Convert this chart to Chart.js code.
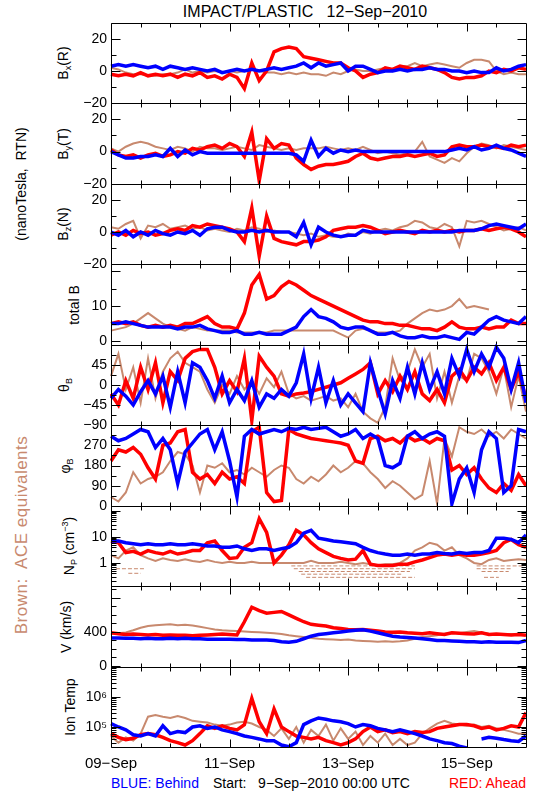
<!DOCTYPE html>
<html>
<head>
<meta charset="utf-8">
<script src="https://cdn.jsdelivr.net/npm/chart.js@4/dist/chart.umd.min.js"></script>
<style>
  body { margin: 0; background: #fff; }
  #wrap { position: relative; width: 550px; height: 800px; font-family: 'Liberation Sans', Arial, sans-serif; color: #000; }
  #wrap canvas { position: absolute; left: 0; }
  .rot { position: absolute; white-space: nowrap; font-size: 14px; line-height: 1; transform: translate(-50%, -50%) rotate(-90deg); }
  .rot sub { font-size: 9px; vertical-align: -3px; }
  .rot sup { font-size: 9px; vertical-align: 6px; }
  .txt { position: absolute; white-space: nowrap; font-size: 14px; line-height: 1; }
</style>
</head>
<body>
<div id="wrap">
  <div class="txt" style="left:305px;top:4px;font-size:16px;transform:translateX(-50%)">IMPACT/PLASTIC&nbsp;&nbsp;&nbsp;12−Sep−2010</div>
  <div class="rot" style="left:21px;top:184px">(nanoTesla,&nbsp; RTN)</div>
  <div class="rot" style="left:21px;top:535px;color:#c8896e;font-size:17px;letter-spacing:0.5px">Brown:&nbsp; ACE equivalents</div>
  <div class="rot" style="left:64px;top:63px">B<sub>x</sub>(R)</div>
  <div class="rot" style="left:64px;top:144px">B<sub>y</sub>(T)</div>
  <div class="rot" style="left:64px;top:224px">B<sub>z</sub>(N)</div>
  <div class="rot" style="left:74px;top:305px">total B</div>
  <div class="rot" style="left:65px;top:385px">θ<sub>B</sub></div>
  <div class="rot" style="left:66px;top:466px">φ<sub>B</sub></div>
  <div class="rot" style="left:70px;top:546px">N<sub>P</sub> (cm<sup>−3</sup>)</div>
  <div class="rot" style="left:66px;top:627px">V (km/s)</div>
  <div class="rot" style="left:70px;top:707px">Ion Temp</div>
  <div class="txt" style="left:111px;top:776px;color:#0000ff">BLUE: Behind</div>
  <div class="txt" style="left:213px;top:776px">Start:&nbsp;&nbsp; 9−Sep−2010 00:00 UTC</div>
  <div class="txt" style="right:24px;top:776px;color:#ff0000">RED: Ahead</div>
</div>
<script>
// hours since 09-Sep-2010 00:00
const HOURS = [0,3,6,9,12,15,18,21,24,27,30,33,36,39,42,45,48,51,54,57,60,63,66,69,72,75,78,81,84,87,90,93,96,99,102,105,108,111,114,117,120,123,126,129,132,135,138,141,144,147,150,153,156,159,162,165,168];

const X_LABEL_HOURS = [0, 48, 96, 144];
const X_LABELS = ['09−Sep', '11−Sep', '13−Sep', '15−Sep'];
const X_MAJOR = [0, 48, 96, 144];
const X_MINOR = [12, 24, 36, 60, 72, 84, 108, 120, 132, 156];

// Bx (R)
const bxRed = [-2,-3,-2,-3,-1,-3,-2,-3,-2,-4, -2,-3,-1,-4,-3,-5,-2,-4,-11,5, -6,0,12,14,15,14,9,8,7,6, 5,5,2,0,-4,-2,-1,2,1,3, 2,1,3,2,1,-1,-4,-5,-4,-4, -3,0,-1,1,0,2,1];
const bxBlue = [3,4,3,4,3,2,3,1,3,2, 1,2,1,0,1,-1,0,1,0,1, 0,1,2,1,2,3,5,2,5,3, 4,5,0,3,3,1,-1,0,0,1, 0,1,1,2,1,1,0,0,-1,0, -1,-1,2,0,1,3,4];
const bxBrown = [2,1,-1,-2,-2,-3,-3,-2,-2,-1, 1,-1,0,-1,0,-1,0,-1,0,1, 0,-1,-1,-2,-1,-2,-1,-2,-2,-3, -1,-2,0,1,0,0,1,2,0,3, 3,5,3,4,5,4,3,2,5,7, 7,6,0,-2,-1,-2,-2];

// By (T)
const byRed = [1,-2,-3,-2,-4,-2,-1,-3,-2,0, -1,2,1,3,4,2,5,3,-3,12, -18,8,2,5,4,-4,-8,-11,-9,-8, -8,-7,-6,-3,-1,-4,-5,-4,-3,-3, -2,-3,-2,-1,-3,-2,3,4,3,3, 4,3,3,2,4,3,4];
const byBlue = [0,-2,-4,-4,-3,-3,-2,-3,2,-3, 1,-2,0,-1,-1,-1,-1,-1,-1,-1, -1,-1,-1,-1,-1,-2,-6,7,-3,2, -1,1,0,1,0,0,0,0,0,0, 0,0,0,0,0,0,1,2,1,3, 1,2,4,2,1,-1,-3];
const byBrown = [2,0,3,5,6,5,3,2,1,3, 2,0,3,2,2,1,2,3,2,1, 4,3,2,1,2,1,2,2,2,3, 2,1,2,1,3,1,-1,0,-1,-2, -1,0,6,-3,-5,-7,-4,-6,-1,3, 5,4,2,4,3,2,1];

// Bz (N)
const bzRed = [-2,0,-2,1,-1,0,-2,-1,1,2, 1,4,3,5,4,3,2,0,-6,15, -15,10,-4,-6,-7,-8,-6,-6,-5,-3, 1,2,3,3,4,3,1,-1,0,1, 0,-1,1,0,1,0,1,0,1,1, 2,1,2,3,2,0,-3];
const bzBlue = [0,-2,1,-3,0,-2,1,-1,-2,0, -1,1,-2,2,3,3,1,0,0,1, 0,1,0,0,0,-3,6,-8,3,0, -2,-3,-2,-2,1,0,0,0,0,0, 0,0,0,0,0,0,0,1,1,1, 2,4,5,4,3,2,5];
const bzBrown = [3,2,5,7,-4,4,3,5,2,3, 4,2,3,1,2,1,0,2,1,3, 2,0,1,0,0,-1,-2,-1,-3,-2, -3,-3,-1,-2,0,-1,1,2,1,3, 4,7,6,3,2,5,3,-9,7,6, 7,5,3,1,2,3,1];

// total B
const btRed = [5,5.5,5,5.5,4.5,4,4.5,4,4.5,4, 5,5,6,7,5,4,4,3.5,8,16, 19,12,13,15.5,17,16,14.5,13,12,11, 10,9,8,7,6,5.5,5.5,5,5,4.5, 4.5,4,3.5,3.5,3,4,5.5,4,3.5,3.5, 4,3.5,4,4,6,5,5];
const btBlue = [5,5,5.5,5,4.5,4,4,4,4,3.5, 4,4,4.5,3.5,3,2.5,2.5,3,2,2, 2.5,2,2,2,3,4,7,9,7,6.5, 5.5,4,3.5,4,4,3,2,2,2.5,1.5, 1,1,1.5,1,1,1.5,1,0.5,2.5,2, 4,6,7,6,5.5,5,7];
const btBrown = [3,3.5,4,5,6.5,8,6.5,5,4,3.5, 3,4,3.5,3,3,3,3,2.5,2.5,2.5, 2.5,2.5,3,3,3,3,3,3,3,3, 3,2,1,3,3.5,3,2.5,2.5,2.5,3, 5,6.5,8,9,8.5,9,10,12,9.5,10, 9.5,9,null,null,null,null,null];

// theta B (deg)
const thRed = [-20,-45,10,-30,40,-10,50,-40,30,10, 60,75,80,80,40,-20,10,-15,60,-80, 65,40,20,-20,-25,-20,-18,-15,-10,-5, 0,5,15,25,35,50,-20,10,-15,20, -10,30,-20,-35,-10,-40,20,35,10,40, 25,50,10,40,-10,30,-30];
const thBlue = [-30,-10,-25,-45,-15,10,-20,20,-50,30, -40,50,40,10,-30,20,-40,-10,-35,10, -50,-20,-30,-10,-25,5,70,-30,40,-40, 10,-45,-20,-40,-60,50,-10,-65,10,-30, 40,-20,50,-10,30,-20,60,20,80,30, 70,40,85,60,-10,50,-40];
const thBrown = [20,70,-10,40,-40,60,-30,30,60,75, 50,40,30,-10,-40,0,-20,20,-10,10, -20,15,-5,30,-20,-30,-25,-35,-30,-25, -35,-30,-50,-20,-60,-75,-85,-50,60,10, 30,80,40,70,-30,30,-40,20,10,70, 60,30,-20,40,-50,20,-60];

// phi B (deg)
const phRed = [200,250,240,260,230,170,120,270,280,330, 340,150,120,140,100,150,120,130,100,330, 350,60,20,25,340,320,310,300,295,290, 285,280,270,200,190,300,310,290,300,280, 310,290,300,280,300,290,160,180,140,170, 120,80,60,100,70,140,90];
const phBlue = [310,290,300,320,340,330,260,300,250,100, 240,280,320,340,250,330,200,40,310,340, 320,330,340,330,345,340,350,340,345,350, 330,310,320,340,300,320,300,180,170,190, 310,330,300,320,330,310,10,120,170,60, 250,330,300,60,90,340,330];
const phBrown = [40,20,60,150,100,120,130,150,200,240, 230,180,60,180,170,190,150,160,140,170, 150,130,160,180,170,120,100,130,110,140, 180,150,170,200,190,150,120,80,110,90, 60,30,50,200,10,300,220,350,330,320, 340,310,330,300,340,320,300];

// Np (cm^-3)
const npRed = [7,6,2.5,2.8,2.2,3,2.5,2.2,2.8,2.2, 2.5,3,3,6,7,3,1.5,1.6,4,6, 50,15,1,2,5,18,12,6,3.5,2.5, 1.8,1.5,1.3,1.4,3,0.9,0.8,0.8,0.8,0.9, 0.9,1.1,1.3,1.6,2,2.2,2,2.2,2,2, 2.2,2.5,3,6,8,5,4];
const npBlue = [7,7,6,5.5,5,5.5,5,5,5.5,5, 5,5.5,5,4.5,4.5,4,4,4.5,3.5,3, 3.5,3.5,3,3.5,4,6,14,18,9,8, 7,6.5,6,5.5,4,3,2.5,2.2,2,2, 2.2,2,2.2,2.2,2.5,2.3,2.2,2.5,2.3,2.5, 2.5,3,9,9,8,6,12];
const npBrown = [2,1.5,3,4,2,1.5,1.2,1.5,1.3,1.2, 1.4,1.2,1.1,1.3,1.1,1,1.1,1,1,1.1, 1,1,1,1,1,1,1,1.2,1,1, 1,1.1,1,0.9,1,0.9,0.8,0.9,0.9,1, 1.5,3,4,6,5,3,4,2,1.5,1, 0.9,1.3,1.5,1.2,1.3,1.4,1.3];
// ACE low-density steps (start hour, end hour, level)
const npStepStart = [73, 74, 76, 77, 79, 148, 148, 150, 151, 2, 7];
const npStepEnd = [123, 123, 121, 118, 123, 167, 162, 161, 157, 14, 12];
const npStepLevel = [0.77, 0.6, 0.47, 0.37, 0.28, 0.77, 0.6, 0.47, 0.28, 0.6, 0.4];

// V (km/s)
const vRed = [390,380,370,375,370,365,370,360,365,360, 360,355,360,365,370,375,370,365,520,690, 650,620,630,640,600,560,520,490,480,470, 450,440,430,425,430,420,410,400,395,400, 390,385,380,390,380,370,390,385,380,375, 390,370,375,370,365,370,360];
const vBlue = [330,330,325,325,320,325,320,320,325,320, 325,320,320,315,315,315,315,310,310,305, 305,305,300,285,280,290,320,350,370,380, 390,400,410,420,425,410,390,370,350,340, 335,330,320,310,300,300,295,290,285,285, 280,285,280,280,280,275,300];
const vBrown = [380,385,395,420,450,470,480,485,490,480, 485,475,460,445,430,420,415,410,405,400, 395,390,385,375,360,350,340,330,320,315, 310,305,310,300,295,290,285,290,285,290, 300,320,340,350,360,380,390,385,400,410, 395,380,375,370,375,370,365];

// Ion temperature (K)
const tRed = [6e4,4.5e4,3.8e4,4.2e4,5.5e4,6e4,5.5e4,4.5e4,3.5e4,3e4, 2.5e4,3.5e4,6e4,1.1e5,9e4,1.1e5,9e4,8e4,1.2e5,9e5, 1.5e5,6e4,4e5,1e5,7e4,5e4,4.5e4,4e4,4.5e4,3.5e4, 3e4,2.5e4,3e4,4e4,7e4,1e5,7e4,8e4,6.5e4,7e4, 6e4,7e4,6.5e4,7e4,9e4,1e5,1.1e5,1.2e5,1.2e5,1.1e5, 9e4,1e5,8e4,9e4,1.1e5,1e5,3e5];
const tBlue = [1.3e5,1e5,8e4,5.5e4,5e4,6e4,5e4,1.1e5,6e4,7e4, 6.5e4,1e5,1.1e5,9e4,1e5,8e4,7e4,6e4,5e4,4.5e4, 4e4,3.5e4,3.5e4,2.5e4,2.2e4,3e4,1.2e5,1.6e5,2e5,1.8e5, 1.6e5,1.5e5,1.3e5,1e5,1.2e5,1.1e5,9e4,8e4,7e4,8e4, 7e4,6e4,5e4,4e4,3.5e4,3e4,2.8e4,2.3e4,2e4,null, 4e4,4.5e4,4.2e4,3.8e4,3.5e4,3.3e4,5e4];
const tBrown = [5e4,3e4,4.5e4,3.5e4,6e4,2.2e5,2.5e5,2.2e5,2e5,2.3e5, 2e5,1.6e5,1.5e5,1.4e5,1.2e5,1.1e5,1.2e5,1.4e5,1.5e5,1.3e5, 1e5,8e4,5e4,9e4,4e4,1e5,3e4,8e4,5e4,1.2e5, 3.5e4,9e4,4e4,7e4,2.5e4,5e4,3e4,6e4,2.5e4,4e4, 2.5e4,3e4,6e4,9e4,1.3e5,1.6e5,1.3e5,1.2e5,1.1e5,1.2e5, 1e5,1.1e5,9e4,8e4,7e4,6e4,6e4];

// axis ticks
const B_LABELS = [-20, 0, 20];
const B_MINOR = [-10, 10];
const BT_LABELS = [0, 10];
const BT_MAJOR = [0, 10, 20];
const BT_MINOR = [5, 15];
const TH_LABELS = [-90, -45, 0, 45];
const TH_MAJOR = [-90, -45, 0, 45, 90];
const TH_MINOR = [-67.5, -22.5, 22.5, 67.5];
const PH_LABELS = [0, 90, 180, 270];
const PH_MAJOR = [0, 90, 180, 270, 360];
const PH_MINOR = [45, 135, 225, 315];
const NP_LABELS = [1, 10];
const NP_MAJOR = [0.1, 1, 10, 100];
const V_LABELS = [0, 400];
const V_MAJOR = [0, 400, 800];
const V_MINOR = [100, 200, 300, 500, 600, 700, 900];
const T_LABELS = [1e5, 1e6];
const T_MAJOR = [1e4, 1e5, 1e6, 1e7];

const COLORS = { red: '#ff0000', blue: '#0000ff', brown: '#c8896e' };
const FONT = "'Liberation Sans', Arial, sans-serif";
const EDGES = [23, 103, 184, 264, 345, 425, 506, 586, 667, 747];
const PLOT_LEFT = 111;
const PLOT_RIGHT = 526;
const PAD = 16;

function logMinor(decades) {
    const out = [];
    decades.forEach(d => { for (let k = 2; k <= 9; k++) out.push(d * k); });
    return out;
}

function fmtNum(v) {
    return v < 0 ? '−' + Math.abs(v) : String(v);
}
const SUP = { 4: '⁴', 5: '⁵', 6: '⁶', 7: '⁷' };
function fmtPow(v) {
    return '10' + SUP[Math.round(Math.log10(v))];
}

const panels = [
    { red: bxRed, blue: bxBlue, brown: bxBrown, type: 'linear', min: -20, max: 30, labels: B_LABELS, major: B_LABELS, minor: B_MINOR, fmt: fmtNum },
    { red: byRed, blue: byBlue, brown: byBrown, type: 'linear', min: -20, max: 30, labels: B_LABELS, major: B_LABELS, minor: B_MINOR, fmt: fmtNum },
    { red: bzRed, blue: bzBlue, brown: bzBrown, type: 'linear', min: -20, max: 30, labels: B_LABELS, major: B_LABELS, minor: B_MINOR, fmt: fmtNum },
    { red: btRed, blue: btBlue, brown: btBrown, type: 'linear', min: -1.1, max: 22, labels: BT_LABELS, major: BT_MAJOR, minor: BT_MINOR, fmt: fmtNum },
    { red: thRed, blue: thBlue, brown: thBrown, type: 'linear', min: -90, max: 90, labels: TH_LABELS, major: TH_MAJOR, minor: TH_MINOR, fmt: fmtNum },
    { red: phRed, blue: phBlue, brown: phBrown, type: 'linear', min: 0, max: 360, labels: PH_LABELS, major: PH_MAJOR, minor: PH_MINOR, fmt: fmtNum },
    { red: npRed, blue: npBlue, brown: npBrown, type: 'logarithmic', min: 0.13, max: 155, labels: NP_LABELS, major: NP_MAJOR, minor: logMinor(NP_MAJOR), fmt: fmtNum, steps: true },
    { red: vRed, blue: vBlue, brown: vBrown, type: 'linear', min: -12, max: 940, labels: V_LABELS, major: V_MAJOR, minor: V_MINOR, fmt: fmtNum },
    { red: tRed, blue: tBlue, brown: tBrown, type: 'logarithmic', min: 2.15e4, max: 1e7, labels: T_LABELS, major: T_MAJOR, minor: logMinor(T_MAJOR), fmt: fmtPow },
];

// IDL style frame with inward ticks on all four sides
const idlFrame = {
    id: 'idlFrame',
    afterDatasetsDraw(chart, args, opts) {
        const { ctx, chartArea: a, scales: { x, y } } = chart;
        const L = Math.round(a.left) + 0.5, R = Math.round(a.right) + 0.5;
        const T = Math.round(a.top) + 0.5, B = Math.round(a.bottom) + 0.5;
        ctx.save();
        ctx.strokeStyle = '#000';
        ctx.lineWidth = 1;
        ctx.beginPath();
        const xt = (v, len) => {
            const p = Math.round(x.getPixelForValue(v)) + 0.5;
            ctx.moveTo(p, T); ctx.lineTo(p, T + len);
            ctx.moveTo(p, B); ctx.lineTo(p, B - len);
        };
        const yt = (v, len) => {
            if (v < y.min || v > y.max) return;
            const p = Math.round(y.getPixelForValue(v)) + 0.5;
            ctx.moveTo(L, p); ctx.lineTo(L + len, p);
            ctx.moveTo(R, p); ctx.lineTo(R - len, p);
        };
        X_MAJOR.forEach(v => xt(v, 8));
        X_MINOR.forEach(v => xt(v, 4));
        opts.major.forEach(v => yt(v, 9));
        opts.minor.forEach(v => yt(v, 5));
        ctx.rect(L, T, R - L, B - T);
        ctx.stroke();
        ctx.restore();
    }
};

const wrap = document.getElementById('wrap');

function series(arr, color, width) {
    return {
        data: HOURS.map((h, i) => ({ x: h, y: arr[i] })),
        borderColor: color,
        backgroundColor: color,
        borderWidth: width,
        pointRadius: 0,
        tension: 0,
        spanGaps: false,
        clip: 1,
    };
}

panels.forEach((p, idx) => {
    const last = idx === panels.length - 1;
    const top = EDGES[idx], bottom = EDGES[idx + 1];
    const xAxisH = last ? 30 : 0;
    const cv = document.createElement('canvas');
    cv.width = 550;
    cv.height = PAD + (bottom - top) + (last ? xAxisH : PAD);
    cv.style.top = (top - PAD) + 'px';
    wrap.appendChild(cv);

    const datasets = [
        series(p.blue, COLORS.blue, 3.5),
        series(p.red, COLORS.red, 3.5),
        series(p.brown, COLORS.brown, 2),
    ];
    if (p.steps) {
        npStepLevel.forEach((lvl, k) => {
            datasets.push({
                data: [{ x: npStepStart[k], y: lvl }, { x: npStepEnd[k], y: lvl }],
                borderColor: COLORS.brown,
                borderWidth: 1,
                borderDash: [4, 2],
                pointRadius: 0,
                clip: 1,
            });
        });
    }

    new Chart(cv.getContext('2d'), {
        type: 'line',
        data: { datasets },
        options: {
            responsive: false,
            devicePixelRatio: 1,
            animation: false,
            events: [],
            layout: { padding: { left: 0, right: 550 - PLOT_RIGHT, top: PAD, bottom: last ? 0 : PAD } },
            plugins: {
                legend: { display: false },
                tooltip: { enabled: false },
                idlFrame: { major: p.major, minor: p.minor },
            },
            scales: {
                x: {
                    type: 'linear',
                    min: 0,
                    max: 168,
                    display: last,
                    afterBuildTicks: s => { s.ticks = X_LABEL_HOURS.map(v => ({ value: v })); },
                    afterFit: s => { s.height = xAxisH; },
                    grid: { display: false, drawTicks: false },
                    border: { display: false },
                    ticks: {
                        color: '#000',
                        font: { family: FONT, size: 15 },
                        padding: 8,
                        maxRotation: 0,
                        autoSkip: false,
                        callback: v => X_LABELS[X_LABEL_HOURS.indexOf(v)],
                    },
                },
                y: {
                    type: p.type,
                    min: p.min,
                    max: p.max,
                    afterBuildTicks: s => { s.ticks = p.labels.map(v => ({ value: v })); },
                    afterFit: s => { s.width = PLOT_LEFT; },
                    grid: { display: false, drawTicks: false },
                    border: { display: false },
                    ticks: {
                        color: '#000',
                        font: { family: FONT, size: 14 },
                        padding: 4,
                        autoSkip: false,
                        callback: v => p.fmt(v),
                    },
                },
            },
        },
        plugins: [idlFrame],
    });
});
</script>
</body>
</html>
